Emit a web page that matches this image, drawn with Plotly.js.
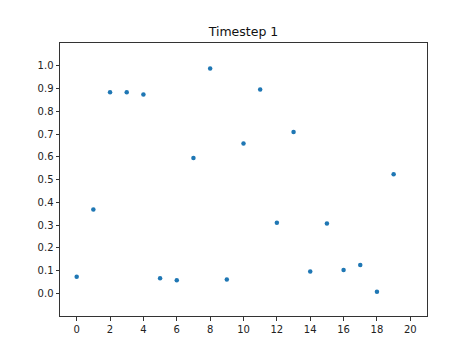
<!DOCTYPE html>
<html>
<head>
<meta charset="utf-8">
<script src="https://cdn.plot.ly/plotly-3.0.1.min.js"></script>
<style>html,body{margin:0;padding:0;background:#fff;}#chart{width:474px;height:355px;}</style>
</head>
<body>
<div id="chart"></div>
<script>
const steps = [0,1,2,3,4,5,6,7,8,9,10,11,12,13,14,15,16,17,18,19];
const values = [0.073,0.368,0.884,0.884,0.874,0.066,0.057,0.595,0.988,0.060,0.658,0.896,0.310,0.709,0.096,0.307,0.102,0.124,0.007,0.523];
const xTicks = [0,2,4,6,8,10,12,14,16,18,20];
const yTicks = [0,0.1,0.2,0.3,0.4,0.5,0.6,0.7,0.8,0.9,1.0];
const titleText = 'Timestep 1';

const font = {family: 'DejaVu Sans, sans-serif', size: 10, color: '#222'};
const axisCommon = {
  showline: true, linecolor: '#333', linewidth: 1, mirror: true,
  ticks: 'outside', ticklen: 3.5, tickwidth: 1, tickcolor: '#333',
  showgrid: false, zeroline: false, tickfont: font, fixedrange: true
};
Plotly.newPlot('chart', [{
  x: steps, y: values, type: 'scatter', mode: 'markers',
  marker: {color: '#1f77b4', size: 4.5}
}], {
  width: 474, height: 355,
  margin: {l: 59.5, r: 47.3, t: 42.7, b: 39.3, pad: 0},
  paper_bgcolor: '#fff', plot_bgcolor: '#fff',
  title: {text: titleText, font: {family: 'DejaVu Sans, sans-serif', size: 12.5, color: '#111'}, xref: 'paper', x: 0.5, xanchor: 'center', yref: 'container', y: 1 - 32/355, yanchor: 'middle'},
  xaxis: Object.assign({}, axisCommon, {range: [-1, 21], tickvals: xTicks, ticktext: xTicks.map(String)}),
  yaxis: Object.assign({}, axisCommon, {range: [-0.1, 1.1], tickvals: yTicks, ticktext: yTicks.map(v => v.toFixed(1))}),
  showlegend: false
}, {displayModeBar: false, staticPlot: true});
</script>
</body>
</html>
